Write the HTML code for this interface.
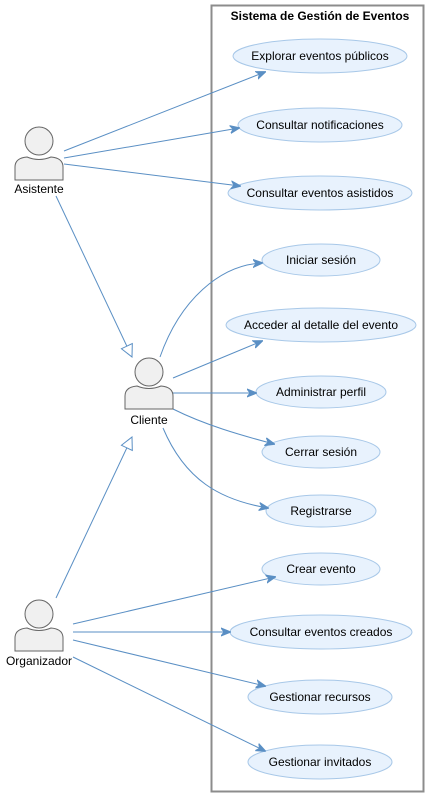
<!DOCTYPE html>
<html><head><meta charset="utf-8"><style>
html,body{margin:0;padding:0;background:#fff;}
svg{display:block;}
text{font-family:"Liberation Sans",Arial,sans-serif;fill:#000;}
</style></head><body>
<svg width="433" height="797" viewBox="0 0 433 797" xmlns="http://www.w3.org/2000/svg">
<defs>
<marker id="a" viewBox="0 0 10 10" refX="9" refY="5" markerWidth="10" markerHeight="10" markerUnits="userSpaceOnUse" orient="auto">
<path d="M0,1 L10,5 L0,9 L3,5 Z" fill="#5a8fc4" stroke="#5a8fc4" stroke-width="1"/>
</marker>
<marker id="g" viewBox="0 0 14 14" refX="13" refY="7" markerWidth="14" markerHeight="14" markerUnits="userSpaceOnUse" orient="auto">
<path d="M1,1 L13,7 L1,13 Z" fill="#fff" stroke="#5a8fc4" stroke-width="1"/>
</marker>
</defs>
<rect x="211.5" y="5.5" width="212" height="786" fill="#fff" stroke="#8c8c8c" stroke-width="2"/>
<text x="320" y="20" font-size="12" font-weight="bold" text-anchor="middle">Sistema de Gestión de Eventos</text>

<g fill="#e8f2fd" stroke="#a8c8e8" stroke-width="1">
<ellipse cx="320" cy="56" rx="87" ry="17"/>
<ellipse cx="320" cy="125" rx="82" ry="17"/>
<ellipse cx="320" cy="193" rx="92" ry="17"/>
<ellipse cx="321" cy="260" rx="59" ry="16"/>
<ellipse cx="321" cy="325" rx="95" ry="17"/>
<ellipse cx="321" cy="392" rx="65" ry="16"/>
<ellipse cx="321" cy="452" rx="59" ry="16"/>
<ellipse cx="321" cy="511" rx="55" ry="16"/>
<ellipse cx="321" cy="569" rx="59" ry="16"/>
<ellipse cx="321" cy="632" rx="91" ry="17"/>
<ellipse cx="320" cy="697" rx="72" ry="17"/>
<ellipse cx="320" cy="762" rx="72" ry="17"/>
</g>
<g font-size="12" text-anchor="middle">
<text x="320" y="60">Explorar eventos públicos</text>
<text x="320" y="129">Consultar notificaciones</text>
<text x="320" y="197">Consultar eventos asistidos</text>
<text x="321" y="264">Iniciar sesión</text>
<text x="321" y="329">Acceder al detalle del evento</text>
<text x="321" y="396">Administrar perfil</text>
<text x="321" y="456">Cerrar sesión</text>
<text x="321" y="515">Registrarse</text>
<text x="321" y="573">Crear evento</text>
<text x="321" y="636">Consultar eventos creados</text>
<text x="320" y="701">Gestionar recursos</text>
<text x="320" y="766">Gestionar invitados</text>
</g>

<g fill="none" stroke="#5a8fc4" stroke-width="1">
<line x1="64" y1="151" x2="265" y2="72" marker-end="url(#a)"/>
<line x1="64" y1="158" x2="239" y2="128" marker-end="url(#a)"/>
<line x1="64" y1="164" x2="240" y2="186" marker-end="url(#a)"/>
<line x1="56" y1="196" x2="132" y2="357" marker-end="url(#g)"/>
<path d="M160,357 C180,300 220,265 262,263" marker-end="url(#a)"/>
<line x1="173" y1="378" x2="262" y2="341" marker-end="url(#a)"/>
<line x1="173" y1="393" x2="256" y2="393" marker-end="url(#a)"/>
<path d="M173,409 C205,425 240,435 274,444" marker-end="url(#a)"/>
<path d="M163,428 C185,480 220,500 268,508" marker-end="url(#a)"/>
<line x1="56" y1="598" x2="132" y2="437" marker-end="url(#g)"/>
<line x1="73" y1="624" x2="275" y2="577" marker-end="url(#a)"/>
<line x1="73" y1="632" x2="230" y2="632" marker-end="url(#a)"/>
<line x1="73" y1="640" x2="265" y2="686" marker-end="url(#a)"/>
<line x1="73" y1="657" x2="265" y2="751" marker-end="url(#a)"/>
</g>

<g fill="#f0f0f0" stroke="#666" stroke-width="1">
<circle cx="39" cy="141" r="14"/>
<path d="M15,180 L15,167 Q15,158 27,157 Q39,162 51,157 Q63,158 63,167 L63,180 Z"/>
<circle cx="149" cy="372" r="14"/>
<path d="M125,409 L125,396 Q125,387 137,386 Q149,391 161,386 Q173,387 173,396 L173,409 Z"/>
<circle cx="39" cy="614" r="14"/>
<path d="M15,651 L15,638 Q15,629 27,628 Q39,633 51,628 Q63,629 63,638 L63,651 Z"/>
</g>
<g font-size="12" text-anchor="middle">
<text x="39" y="193">Asistente</text>
<text x="149" y="424">Cliente</text>
<text x="39" y="665">Organizador</text>
</g>
</svg>
</body></html>
